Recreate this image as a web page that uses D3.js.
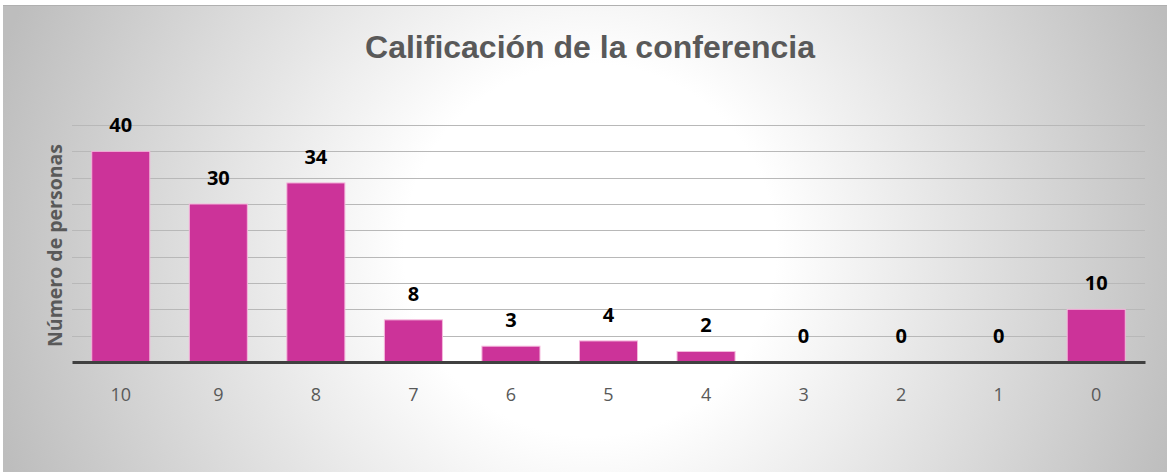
<!DOCTYPE html>
<html>
<head>
<meta charset="utf-8">
<script src="https://cdn.jsdelivr.net/npm/d3@7"></script>
<style>
  html, body { margin: 0; padding: 0; background: #fff; }
  svg { display: block; }
</style>
</head>
<body>
<svg width="1167" height="472"></svg>
<script>
// chart data
var categories = ["10", "9", "8", "7", "6", "5", "4", "3", "2", "1", "0"];
var counts = [40, 30, 34, 8, 3, 4, 2, 0, 0, 0, 10];
var yTicks = [0, 5, 10, 15, 20, 25, 30, 35, 40, 45];
var title = "Calificación de la conferencia";
var yTitle = "Número de personas";

var svg = d3.select("svg"),
    margin = {top: 125, right: 22, bottom: 110, left: 72},
    width = svg.attr("width") - margin.left - margin.right,
    height = svg.attr("height") - margin.top - margin.bottom;

// background gradient
var defs = svg.append("defs");
var grad = defs.append("radialGradient")
    .attr("id", "bg")
    .attr("gradientUnits", "userSpaceOnUse")
    .attr("cx", 590).attr("cy", 250).attr("r", 620);
grad.append("stop").attr("offset", "0").attr("stop-color", "#ffffff");
grad.append("stop").attr("offset", "0.3").attr("stop-color", "#ffffff");
grad.append("stop").attr("offset", "1").attr("stop-color", "#bdbdbd");

svg.append("rect")
    .attr("x", 3).attr("y", 5)
    .attr("width", 1164).attr("height", 467)
    .attr("fill", "url(#bg)");
svg.append("line")
    .attr("x1", 3).attr("x2", 1167).attr("y1", 5.5).attr("y2", 5.5)
    .attr("stroke", "#b0b0b0").attr("stroke-width", 1);

var g = svg.append("g").attr("transform", "translate(" + margin.left + "," + margin.top + ")");

var x = d3.scaleBand().domain(categories).range([0, width]).paddingInner(0.405).paddingOuter(0.2025),
    y = d3.scaleLinear().domain([0, 45]).range([height, 0]);

// gridlines
g.append("g")
    .attr("class", "grid")
    .selectAll("line")
    .data(yTicks.slice(1))
    .enter().append("line")
      .attr("x1", 0).attr("x2", width)
      .attr("y1", function(d) { return Math.round(y(d)) + 0.5; })
      .attr("y2", function(d) { return Math.round(y(d)) + 0.5; })
      .attr("stroke", "#b8b8b8")
      .attr("stroke-width", 1);

// bars
g.selectAll(".bar")
    .data(counts)
    .enter().append("rect")
      .attr("class", "bar")
      .attr("x", function(d, i) { return x(categories[i]); })
      .attr("y", function(d) { return y(d); })
      .attr("width", x.bandwidth())
      .attr("height", function(d) { return height - y(d); })
      .attr("fill", "#cc3399")
      .attr("stroke", "#f4b8dc")
      .attr("stroke-width", 1);

// baseline axis
var xAxis = g.append("g")
    .attr("class", "axis axis--x")
    .attr("transform", "translate(0," + height + ")")
    .call(d3.axisBottom(x).tickSize(0).tickPadding(26));
xAxis.select(".domain").attr("stroke", "#404040").attr("stroke-width", 3);
xAxis.selectAll("text")
    .attr("fill", "#595959")
    .style("font", "18px 'Open Sans', sans-serif");

// value labels
g.selectAll(".val")
    .data(counts)
    .enter().append("text")
      .attr("class", "val")
      .attr("x", function(d, i) { return x(categories[i]) + x.bandwidth() / 2; })
      .attr("y", function(d) { return y(d) - 19; })
      .attr("text-anchor", "middle")
      .attr("fill", "#000")
      .style("font", "bold 20px 'Open Sans', sans-serif")
      .text(function(d) { return d; });

// title
svg.append("text")
    .attr("x", 590)
    .attr("y", 58)
    .attr("text-anchor", "middle")
    .attr("fill", "#595959")
    .style("font", "bold 32px 'Liberation Sans', Arial, sans-serif")
    .text(title);

// y axis title
svg.append("text")
    .attr("transform", "translate(62," + (margin.top + height / 2 + 2) + ") rotate(-90)")
    .attr("text-anchor", "middle")
    .attr("fill", "#595959")
    .style("font", "bold 19.5px 'Open Sans', sans-serif")
    .text(yTitle);
</script>
</body>
</html>
